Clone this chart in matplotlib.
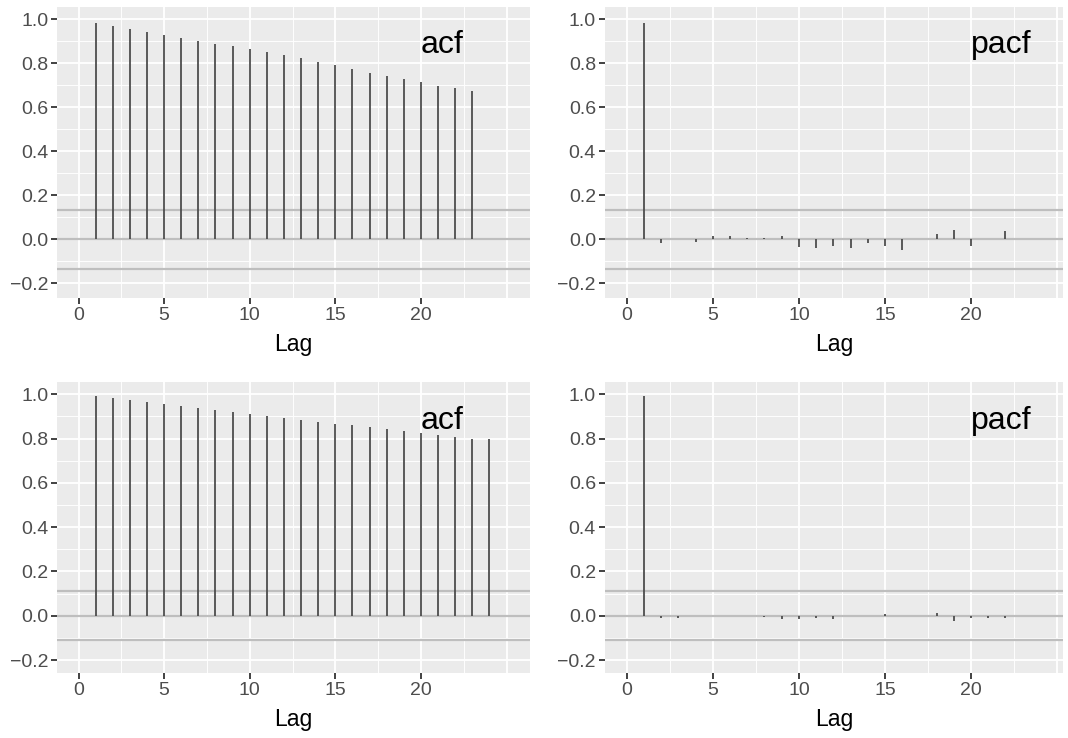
import matplotlib
matplotlib.use("Agg")
import matplotlib.pyplot as plt
import numpy as np

plt.rcParams['font.family'] = ['Liberation Sans', 'DejaVu Sans']

# series 1 (top row), 23 lags
acf1 = [0.983, 0.971, 0.956, 0.942, 0.929, 0.915, 0.902, 0.889, 0.879, 0.865,
        0.852, 0.838, 0.824, 0.806, 0.792, 0.774, 0.756, 0.742, 0.729, 0.715,
        0.697, 0.688, 0.674]
pacf1 = [0.983, -0.018, 0.0, -0.014, 0.014, 0.014, 0.008, 0.008, 0.014, -0.036,
         -0.041, -0.032, -0.041, -0.018, -0.032, -0.050, 0.0, 0.023, 0.041, -0.032,
         0.0, 0.036, 0.0]
ci1 = 0.134

# series 2 (bottom row), 24 lags
acf2 = [0.993, 0.984, 0.975, 0.966, 0.957, 0.948, 0.939, 0.930, 0.921, 0.912,
        0.903, 0.894, 0.885, 0.876, 0.867, 0.863, 0.854, 0.845, 0.836, 0.827,
        0.818, 0.809, 0.800, 0.796]
pacf2 = [0.993, -0.009, -0.009, 0.0, 0.0, 0.0, 0.0, -0.007, -0.015, -0.015,
         -0.009, -0.015, 0.0, 0.0, 0.007, 0.0, 0.0, 0.012, -0.022, -0.009,
         -0.009, -0.009, 0.0, 0.0]
ci2 = 0.11

W, H = 1068, 738
fig = plt.figure(figsize=(W / 100, H / 100), dpi=100)

def panel(px0, px1, py0, py1, vals, ci, label, xlim, ylim, label_y):
    ax = fig.add_axes([px0 / W, 1 - py1 / H, (px1 - px0) / W, (py1 - py0) / H])
    ax.set_facecolor('#ebebeb')
    for s in ax.spines.values():
        s.set_visible(False)
    ax.set_xlim(*xlim)
    ax.set_ylim(*ylim)
    ax.set_xticks([0, 5, 10, 15, 20, 25])
    ax.set_xticklabels(['0', '5', '10', '15', '20', ''])
    ax.set_xticks([2.5, 7.5, 12.5, 17.5, 22.5], minor=True)
    yt = np.round(np.arange(-0.2, 1.01, 0.2), 1)
    ax.set_yticks(yt)
    ax.set_yticklabels(['\u22120.2' if v < 0 else f'{v:.1f}' for v in yt])
    ax.set_yticks(np.round(np.arange(-0.1, 1.0, 0.2), 1), minor=True)
    ax.grid(which='major', color='white', linewidth=1.3)
    ax.grid(which='minor', color='white', linewidth=0.65)
    ax.set_axisbelow(True)
    ax.tick_params(which='major', length=4.5, width=1.3, color='#333333',
                   labelcolor='#4d4d4d', labelsize=14, pad=2)
    ax.tick_params(which='minor', length=0)
    # the x tick at 25 has no label and no visible tick in the reference
    ax.xaxis.get_major_ticks()[-1].tick1line.set_visible(False)
    lags = np.arange(1, len(vals) + 1)
    ax.axhline(0, color='#bebebe', linewidth=1.6, zorder=2)
    ax.axhline(ci, color='#bebebe', linewidth=1.6, zorder=2)
    ax.axhline(-ci, color='#bebebe', linewidth=1.6, zorder=2)
    ax.vlines(lags, 0, vals, color='#4d4d4d', linewidth=1.3, zorder=3)
    ax.text(20, label_y, label, ha='left', va='baseline', fontsize=23, color='black')
    ax.set_xlabel('Lag', fontsize=16.5, color='black', labelpad=7)
    return ax

ylim_top = (-0.265, 1.057)
ylim_bot = (-0.257, 1.054)
panel(57.3, 530, 6.7, 297.7, acf1, ci1, 'acf', (-1.24, 26.37), ylim_top, 0.847)
panel(605, 1063, 6.7, 297.7, pacf1, ci1, 'pacf', (-1.27, 25.35), ylim_top, 0.847)
panel(57.3, 530, 382.3, 672.7, acf2, ci2, 'acf', (-1.24, 26.37), ylim_bot, 0.841)
panel(605, 1063, 382.3, 672.7, pacf2, ci2, 'pacf', (-1.27, 25.35), ylim_bot, 0.841)

fig.savefig('out.png', dpi=100)
